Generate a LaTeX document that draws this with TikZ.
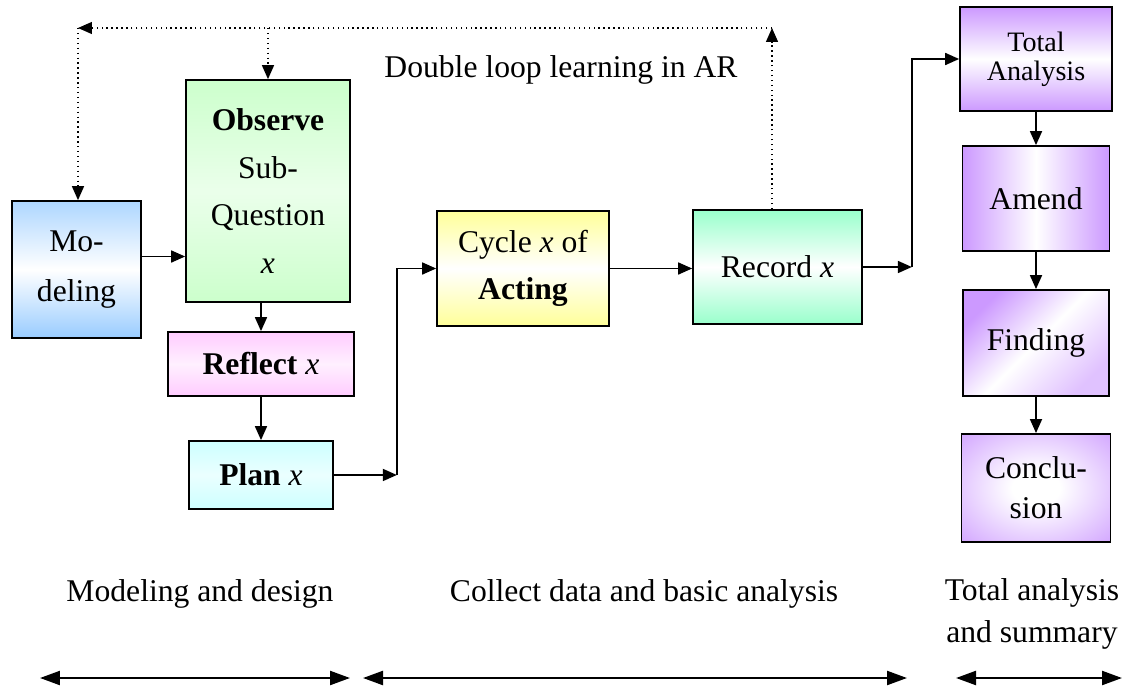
\documentclass[tikz,border=0pt]{standalone}
\usepackage{fontspec}
\setmainfont{Liberation Serif}
\usetikzlibrary{arrows.meta,positioning}
\definecolor{modelblue}{RGB}{153,204,255}
\definecolor{obsgreen}{RGB}{204,255,204}
\definecolor{reflpink}{RGB}{255,204,255}
\definecolor{plancyan}{RGB}{204,255,255}
\definecolor{cycyellow}{RGB}{255,255,153}
\definecolor{recmint}{RGB}{153,255,204}
\definecolor{anapurple}{RGB}{204,153,255}
\pgfdeclareradialshading{conclshade}{\pgfpoint{0bp}{0bp}}{color(0bp)=(white); color(8bp)=(white); color(40bp)=(rgb,255:red,204;green,153;blue,255); color(100bp)=(rgb,255:red,204;green,153;blue,255)}
\begin{document}
\begin{tikzpicture}[x=0.02cm,y=-0.02cm,
        box/.style={draw,line width=1pt,align=center,inner sep=0pt,font=\fontsize{18}{27}\selectfont},
        flow/.style={-{Triangle[length=2.8mm,width=2.4mm]},line width=1pt},
        loopback/.style={-{Triangle[length=2.8mm,width=2.4mm]},dotted,line width=0.8pt},
        span/.style={{Triangle[length=4mm,width=2.8mm]}-{Triangle[length=4mm,width=2.8mm]},line width=1.3pt},
        phase/.style={align=center,font=\fontsize{18}{23.5}\selectfont}]
        \useasboundingbox (0,0) rectangle (1125,686);

        % modeling and design
        \node[box,minimum width=2.58cm,minimum height=2.74cm,top color=modelblue!80,bottom color=modelblue,middle color=white,font=\fontsize{18}{28.4}\selectfont] (model) at (76.5,269.5) {Mo-\\deling};
        \node[box,minimum width=3.28cm,minimum height=4.44cm,top color=obsgreen,bottom color=obsgreen,middle color=obsgreen!40] (observe) at (268,191) {\textbf{Observe}\\Sub-\\Question\\\textit{x}};
        \node[box,minimum width=3.72cm,minimum height=1.28cm,top color=reflpink,bottom color=reflpink,middle color=reflpink!30] (reflect) at (261,364) {\textbf{Reflect} \textit{x}};
        \node[box,minimum width=2.88cm,minimum height=1.36cm,top color=plancyan,bottom color=plancyan,middle color=plancyan!40,below of=reflect,node distance=2.22cm] (plan) {\textbf{Plan} \textit{x}};

        % collect data
        \node[box,minimum width=3.44cm,minimum height=2.3cm,top color=cycyellow,bottom color=cycyellow,middle color=white] (cycle) at (523,268.5) {Cycle \textit{x} of\\\textbf{Acting}};
        \node[box,minimum width=3.38cm,minimum height=2.28cm,top color=recmint,bottom color=recmint,middle color=white] (record) at (777.5,267) {Record \textit{x}};

        % total analysis
        \node[box,minimum width=3.04cm,minimum height=2.08cm,top color=anapurple,bottom color=anapurple,middle color=white,font=\fontsize{16}{16.5}\selectfont] (total) at (1036,59) {Total\\Analysis};
        \node[box,minimum width=2.94cm,minimum height=2.1cm,left color=anapurple,right color=anapurple,middle color=white,below of=total,node distance=2.79cm] (amend) {Amend};
        \node[box,minimum width=2.92cm,minimum height=2.12cm,top color=anapurple,bottom color=anapurple!60,middle color=white,shading angle=45,below of=amend,node distance=2.89cm] (finding) {Finding};
        \node[box,minimum width=2.98cm,minimum height=2.16cm,shading=conclshade,below of=finding,node distance=2.9cm,font=\fontsize{18}{22.7}\selectfont] (concl) {Conclu-\\sion};

        \node[font=\fontsize{18}{22}\selectfont] (dloop) at (561,70) {Double loop learning in AR};

        % solid flow
        \draw[flow] ([yshift=0.26cm]model.east) -- ([yshift=0.26cm]model.east -| observe.west);
        \draw[flow] (reflect.north |- observe.south) -- (reflect.north);
        \draw[flow] (reflect.south) -- (plan.north);
        \coordinate[right=1.26cm of plan.east] (pc);
        \draw[flow] (plan.east) -- (pc);
        \draw[flow] (pc) |- (cycle.west);
        \draw[flow] (cycle.east) -- (cycle.east -| record.west);
        \coordinate[right=0.98cm of record.east] (rc);
        \draw[flow] (record.east) -- (rc);
        \draw[flow] (rc) |- (total.west);
        \draw[flow] (total) -- (amend);
        \draw[flow] (amend) -- (finding);
        \draw[flow] (finding) -- (concl);

        % double loop (dotted)
        \coordinate (tr) at (772,28);
        \coordinate (tl) at (78,28);
        \draw[loopback] (tr |- record.north) -- (tr);
        \draw[loopback] (tr) -- (tl);
        \draw[loopback] (tl) -- (tl |- model.north);
        \draw[loopback] (observe.north |- tl) -- (observe.north);

        % phases
        \node[phase] (ph1) at (200,594) {Modeling and design};
        \node[phase] (ph2) at (644,594) {Collect data and basic analysis};
        \node[phase] (ph3) at (1032,614) {Total analysis\\and summary};
        \coordinate (s1a) at (40,678);
        \coordinate (s1b) at (350,678);
        \coordinate (s2a) at (363,678);
        \coordinate (s2b) at (907,678);
        \coordinate (s3a) at (956,678);
        \coordinate (s3b) at (1122,678);
        \draw[span] (s1a) -- (s1b);
        \draw[span] (s2a) -- (s2b);
        \draw[span] (s3a) -- (s3b);
    \end{tikzpicture}
\end{document}
